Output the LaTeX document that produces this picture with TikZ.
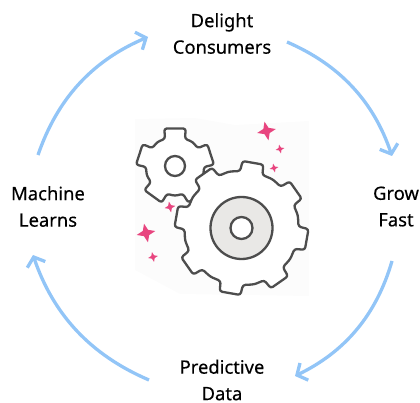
\documentclass[tikz,border=0pt]{standalone}
\usepackage{fontspec}
\setmainfont{Noto Sans}
\usetikzlibrary{arrows.meta}
\newcommand{\gearpath}[7]{%
  \pgfmathsetmacro{\gstep}{360/#3}
  \pgfmathtruncatemacro{\glast}{#3-1}
  \draw[gearline,rounded corners=#7pt,shift={(#1,#2)}] ({#4-\gstep/2}:#5+0.8)
  \foreach \i in {1,...,\glast}{
    -- ({#4+(\i-1)*\gstep-\gbase}:#5)
    -- ({#4+(\i-1)*\gstep-\gtop}:#6)
    -- ({#4+(\i-1)*\gstep+\gtop}:#6)
    -- ({#4+(\i-1)*\gstep+\gbase}:#5)
    -- ({#4+(\i-1)*\gstep+\gstep/2}:#5+0.8)
  }
    -- ({#4+\glast*\gstep-\gbase}:#5)
    -- ({#4+\glast*\gstep-\gtop}:#6)
    -- ({#4+\glast*\gstep+\gtop}:#6)
    -- ({#4+\glast*\gstep+\gbase}:#5)
    -- cycle;
}
\tikzset{
  cyclearrow/.style={draw=arrowblue,line width=3.3pt,-{Straight Barb[length=8pt,width=19pt,line width=3.3pt]}},
  cyclelabel/.style={align=center,inner sep=0pt,font=\fontsize{18.4}{26.5}\selectfont\addfontfeature{FakeBold=0.3},text=black},
  gearline/.style={draw=gearcol,line width=2.3pt,fill=white,line join=round},
  ringline/.style={draw=gearcol,line width=2.3pt},
  sparkle/.style={fill=sparkcol,draw=none}
}
\definecolor{arrowblue}{HTML}{92C5F7}
\definecolor{gearcol}{HTML}{4D4D4D}
\definecolor{sparkcol}{HTML}{E8457F}
\definecolor{hubgray}{HTML}{E9E8E6}
\definecolor{bgpatch}{HTML}{FCFCFC}
\newcommand{\spark}[3]{%
  \fill[sparkle,shift={(#1,#2)},rotate=12]
    (0,-#3) -- (#3*0.28,-#3*0.28) -- (#3,0) -- (#3*0.28,#3*0.28) -- (0,#3)
    -- (-#3*0.28,#3*0.28) -- (-#3,0) -- (-#3*0.28,-#3*0.28) -- cycle;
}
\begin{document}
\begin{tikzpicture}[x=1pt,y=-1pt]
\useasboundingbox (0,0) rectangle (420,403);
\clip (0,0) rectangle (420,403);
% pale backdrop of the picture
\fill[bgpatch] (135,119) -- (195,118) -- (235,125) -- (309,121) -- (309,296) -- (180,294) -- (135,270) -- cycle;
% small gear
\def\gbase{20}\def\gtop{16}
\gearpath{175}{166}{5}{-90}{29}{39}{2.5}
\draw[ringline] (175,166) circle (10);
% large gear
\def\gbase{11.5}\def\gtop{9}
\gearpath{241.5}{228}{8}{-80}{57}{67}{2.5}
\draw[ringline,fill=hubgray] (241.5,228) circle (31);
\draw[ringline,fill=white] (241.5,228) circle (11);
% sparkles
\spark{266.5}{131}{9.5}
\spark{280}{149}{4.5}
\spark{274}{168}{4.5}
\spark{170}{207}{5.5}
\spark{146}{233}{9.5}
\spark{153}{257}{5}
% labels
\node[cyclelabel] (delight) at (222,33.5) {Delight\\Consumers};
\node[cyclelabel] (grow) at (396,206.5) {Grow\\Fast};
\node[cyclelabel] (predict) at (222,380) {Predictive\\Data};
\node[cyclelabel] (machine) at (48,206.5) {Machine\\Learns};
% connector ends
\coordinate (a1s) at (38,155);  \coordinate (a1e) at (148,37);
\coordinate (a2s) at (287,42);  \coordinate (a2e) at (392,156);
\coordinate (a3s) at (392,261); \coordinate (a3e) at (295,376);
\coordinate (a4s) at (149,380); \coordinate (a4e) at (33,255);
\draw[cyclearrow] (a1s) to[bend left=24,looseness=0.95] (a1e);
\draw[cyclearrow] (a2s) to[bend left=24,looseness=0.95] (a2e);
\draw[cyclearrow] (a3s) to[bend left=24,looseness=0.95] (a3e);
\draw[cyclearrow] (a4s) to[bend left=24,looseness=0.95] (a4e);
\end{tikzpicture}
\end{document}
